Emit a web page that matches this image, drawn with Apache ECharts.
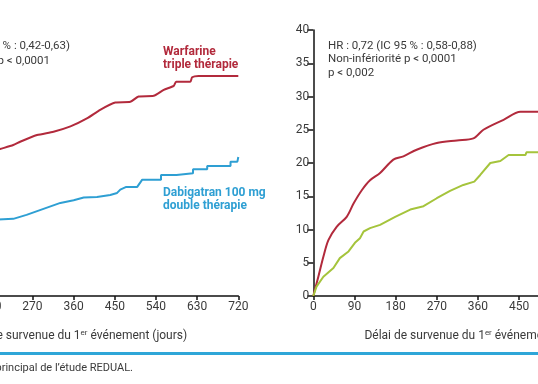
<!DOCTYPE html>
<html><head><meta charset="utf-8">
<script src="https://cdn.jsdelivr.net/npm/echarts@6/dist/echarts.min.js"></script>
<style>
html,body{margin:0;padding:0;width:538px;height:384px;overflow:hidden;background:#fff;position:relative;}
#c{position:absolute;left:-150px;top:0;width:850px;height:384px;}
</style></head>
<body><div id="c"></div>
<script>
// ---- data ----
var xTicks = [0, 90, 180, 270, 360, 450, 540, 630, 720];
var yTicks = [0, 5, 10, 15, 20, 25, 30, 35, 40];
var axisTitle = 'Délai de survenue du 1{sup|er} événement (jours)';

var daysWarfarinLeft = [195, 199, 228, 243, 280, 316, 353, 389, 418, 451, 484, 502, 535, 557, 579, 584, 615, 619, 633, 720];
var valsWarfarinLeft = [22.0, 22.1, 22.7, 23.2, 24.2, 24.7, 25.5, 26.7, 28.0, 29.1, 29.2, 30.0, 30.1, 31.0, 31.6, 32.2, 32.2, 32.9, 33.1, 33.1];

var daysDabiLeft = [195, 199, 228, 257, 294, 331, 360, 382, 411, 440, 455, 462, 475, 499, 510, 551, 551, 585, 585, 621, 621, 652, 652, 703, 703, 718, 720];
var valsDabiLeft = [11.5, 11.5, 11.6, 12.2, 13.1, 14.0, 14.4, 14.8, 14.9, 15.2, 15.5, 16.0, 16.4, 16.4, 17.5, 17.5, 18.2, 18.2, 18.45, 18.45, 19.05, 19.05, 19.55, 19.55, 20.2, 20.2, 20.9];

var daysWarfarinRight = [0, 11, 22, 33, 51, 73, 88, 106, 124, 146, 175, 197, 226, 270, 314, 350, 372, 416, 453, 500];
var valsWarfarinRight = [0, 2.9, 5.9, 8.4, 10.4, 11.9, 13.9, 15.9, 17.4, 18.5, 20.5, 21.0, 22.0, 23.0, 23.4, 23.7, 25.0, 26.5, 27.7, 27.7];

var daysDabiRight = [0, 7, 22, 44, 58, 77, 91, 102, 110, 124, 146, 179, 212, 241, 270, 299, 328, 352, 365, 387, 409, 427, 464, 466, 500];
var valsDabiRight = [0, 1.4, 2.9, 4.2, 5.7, 6.7, 8.0, 8.7, 9.7, 10.2, 10.7, 11.9, 13.0, 13.5, 14.7, 15.8, 16.7, 17.2, 18.2, 20.0, 20.3, 21.2, 21.2, 21.6, 21.6];

var annotLeft = ['HR : 0,52 (IC 95 % : 0,42-0,63)', 'Non-infériorité p < 0,0001'];
var annotRight = ['HR : 0,72 (IC 95 % : 0,58-0,88)', 'Non-infériorité p < 0,0001', 'p < 0,002'];
var labelWarfarin = ['Warfarine', 'triple thérapie'];
var labelDabi = ['Dabigatran 100 mg', 'double thérapie'];
var footer = 'Figure. Critère principal de l\u2019étude REDUAL.';

// ---- chart ----
function pairs(xs, ys){ return xs.map(function(x,i){ return [x, ys[i]]; }); }
var FONT = 'Roboto, "Noto Sans", sans-serif';
var RED = '#b22a3c', BLUE = '#2e9fd3', GREEN = '#a5c43c', TXT = '#3a3a3a';

function xAxis(idx){
  return {
    type:'value', gridIndex: idx, min:0, max:720, interval:90,
    axisLine:{show:true, onZero:false, lineStyle:{color:'#111', width:1.5}},
    axisTick:{show:true, length:4, lineStyle:{color:'#111', width:1.5}},
    axisLabel:{color:TXT, fontSize:12, fontFamily:FONT, margin:5},
    splitLine:{show:false},
    name: axisTitle, nameLocation:'middle', nameGap:33,
    nameTextStyle:{color:TXT, fontSize:12, fontFamily:FONT,
      rich:{sup:{fontSize:8, fontFamily:FONT, color:TXT, padding:[0,0,6,0]}}}
  };
}
function yAxis(idx){
  return {
    type:'value', gridIndex: idx, min:0, max:40, interval:5,
    axisLine:{show:true, lineStyle:{color:'#111', width:1.5}},
    axisTick:{show:true, length:6, lineStyle:{color:'#111', width:1.5}},
    axisLabel:{color:TXT, fontSize:12, fontFamily:FONT, margin:4},
    splitLine:{show:false}
  };
}
function line(xi, data, color, smooth){
  return {type:'line', xAxisIndex:xi, yAxisIndex:xi, data:data, showSymbol:false,
    smooth: smooth || false,
    lineStyle:{color:color, width:2}, itemStyle:{color:color}, animation:false, silent:true};
}
function txt(x, y, s, opts){
  opts = opts || {};
  return {type:'text', x:x, y:y, silent:true,
    style:{text:s, fill:opts.fill||TXT, font:(opts.bold?'bold ':'')+(opts.size||12)+'px '+FONT,
      textAlign:opts.align||'left', textVerticalAlign:'middle'}};
}
var OFF = 150; // container offset
var graphics = [];
graphics.push(txt(70+OFF, 46, annotLeft[0], {align:'right', size:11.5}));
graphics.push(txt(50+OFF, 61, annotLeft[1], {align:'right', size:11.5}));
annotRight.forEach(function(s,i){ graphics.push(txt(328+OFF, 46+i*13.6, s, {size:11.5})); });
labelWarfarin.forEach(function(s,i){ graphics.push(txt(163+OFF, 52+i*13, s, {fill:RED, bold:true})); });
labelDabi.forEach(function(s,i){ graphics.push(txt(163+OFF, 193+i*13, s, {fill:BLUE, bold:true})); });
graphics.push({type:'rect', silent:true, shape:{x:0, y:352, width:850, height:3}, style:{fill:'#2ea6d8'}});
graphics.push(txt(133+OFF, 368, footer, {align:'right', size:11}));

var chart = echarts.init(document.getElementById('c'), null, {renderer:'canvas'});
chart.setOption({
  backgroundColor:'#fff',
  animation:false,
  grid:[
    {left:59, top:30, width:329.3, height:266},
    {left:463.3, top:30, width:329.3, height:266}
  ],
  xAxis:[xAxis(0), xAxis(1)],
  yAxis:[yAxis(0), yAxis(1)],
  series:[
    line(0, pairs(daysWarfarinLeft, valsWarfarinLeft), RED, 0.2),
    line(0, pairs(daysDabiLeft, valsDabiLeft), BLUE),
    line(1, pairs(daysWarfarinRight, valsWarfarinRight), RED, 0.3),
    line(1, pairs(daysDabiRight, valsDabiRight), GREEN)
  ],
  graphic: graphics
});
</script>
</body></html>
